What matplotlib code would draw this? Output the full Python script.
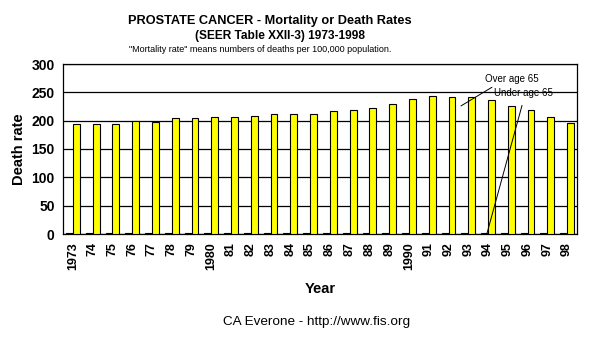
import numpy as np
import matplotlib
matplotlib.use("Agg")
import matplotlib.pyplot as plt

plt.rcParams['font.family'] = ['Liberation Sans', 'DejaVu Sans']

# -------------------------------
# DATA
# -------------------------------
years = ["1973", "74", "75", "76", "77", "78", "79", "1980", "81", "82", "83", "84", "85",
         "86", "87", "88", "89", "1990", "91", "92", "93", "94", "95", "96", "97", "98"]
over_65 = [194, 194, 194, 199, 197, 204, 204, 206, 206, 208, 211, 211, 211,
           217, 219, 222, 229, 238, 243, 241, 241, 236, 226, 219, 206, 196]
under_65 = [1.5] * 26
y_ticks = [0, 50, 100, 150, 200, 250, 300]

# -------------------------------
# FIGURE
# -------------------------------
W, H = 592, 351
fig = plt.figure(figsize=(W / 100, H / 100), dpi=100)
ax = fig.add_axes([63 / W, 1 - 234 / H, (577 - 63) / W, (234 - 64) / H])

x = np.arange(len(years))
bw = 0.35
ax.bar(x - bw / 2, under_65, width=bw, color="#202020", edgecolor="black", linewidth=0.8, zorder=3)
ax.bar(x + bw / 2, over_65, width=bw, color="#ffff00", edgecolor="black", linewidth=0.8, zorder=3)

ax.set_xlim(-0.5, len(years) - 0.5)
ax.set_ylim(0, 300)
ax.set_yticks(y_ticks)
ax.set_yticklabels([str(v) for v in y_ticks], fontsize=10, fontweight="bold")
ax.set_xticks(x)
ax.set_xticklabels(years, rotation=90, fontsize=9, fontweight="bold")
ax.tick_params(length=0, pad=6)
ax.yaxis.grid(True, color="black", linewidth=0.9, zorder=0)
for s in ax.spines.values():
    s.set_color("black")
    s.set_linewidth(0.9)

ax.set_ylabel("Death rate", fontsize=10.5, fontweight="bold", labelpad=4)

# annotations (labels + leader lines)
ax.text(20.85, 273, "Over age 65", fontsize=7, ha="left", va="center", zorder=5)
ax.annotate("", xy=(19.63, 226), xytext=(21.2, 259),
            arrowprops=dict(arrowstyle="-", color="black", lw=0.7, shrinkA=0, shrinkB=0), zorder=5)
ax.text(21.3, 249, "Under age 65", fontsize=7, ha="left", va="center", zorder=5)
ax.annotate("", xy=(20.95, 1.5), xytext=(22.72, 227),
            arrowprops=dict(arrowstyle="-", color="black", lw=0.7, shrinkA=0, shrinkB=0), zorder=5)

# titles
fig.text(270 / W, 1 - 21 / H, "PROSTATE CANCER - Mortality or Death Rates",
         ha="center", va="center", fontsize=9.2, fontweight="bold")
fig.text(280 / W, 1 - 36 / H, "(SEER Table XXII-3) 1973-1998",
         ha="center", va="center", fontsize=8.6, fontweight="bold")
fig.text(260 / W, 1 - 50 / H, "\"Mortality rate\" means numbers of deaths per 100,000 population.",
         ha="center", va="center", fontsize=6.5)
fig.text(320 / W, 1 - 289 / H, "Year", ha="center", va="center", fontsize=10.5, fontweight="bold")
fig.text(317 / W, 1 - 322 / H, "CA Everone - http://www.fis.org",
         ha="center", va="center", fontsize=9.7)

fig.savefig("out.png", dpi=100)
plt.close(fig)
